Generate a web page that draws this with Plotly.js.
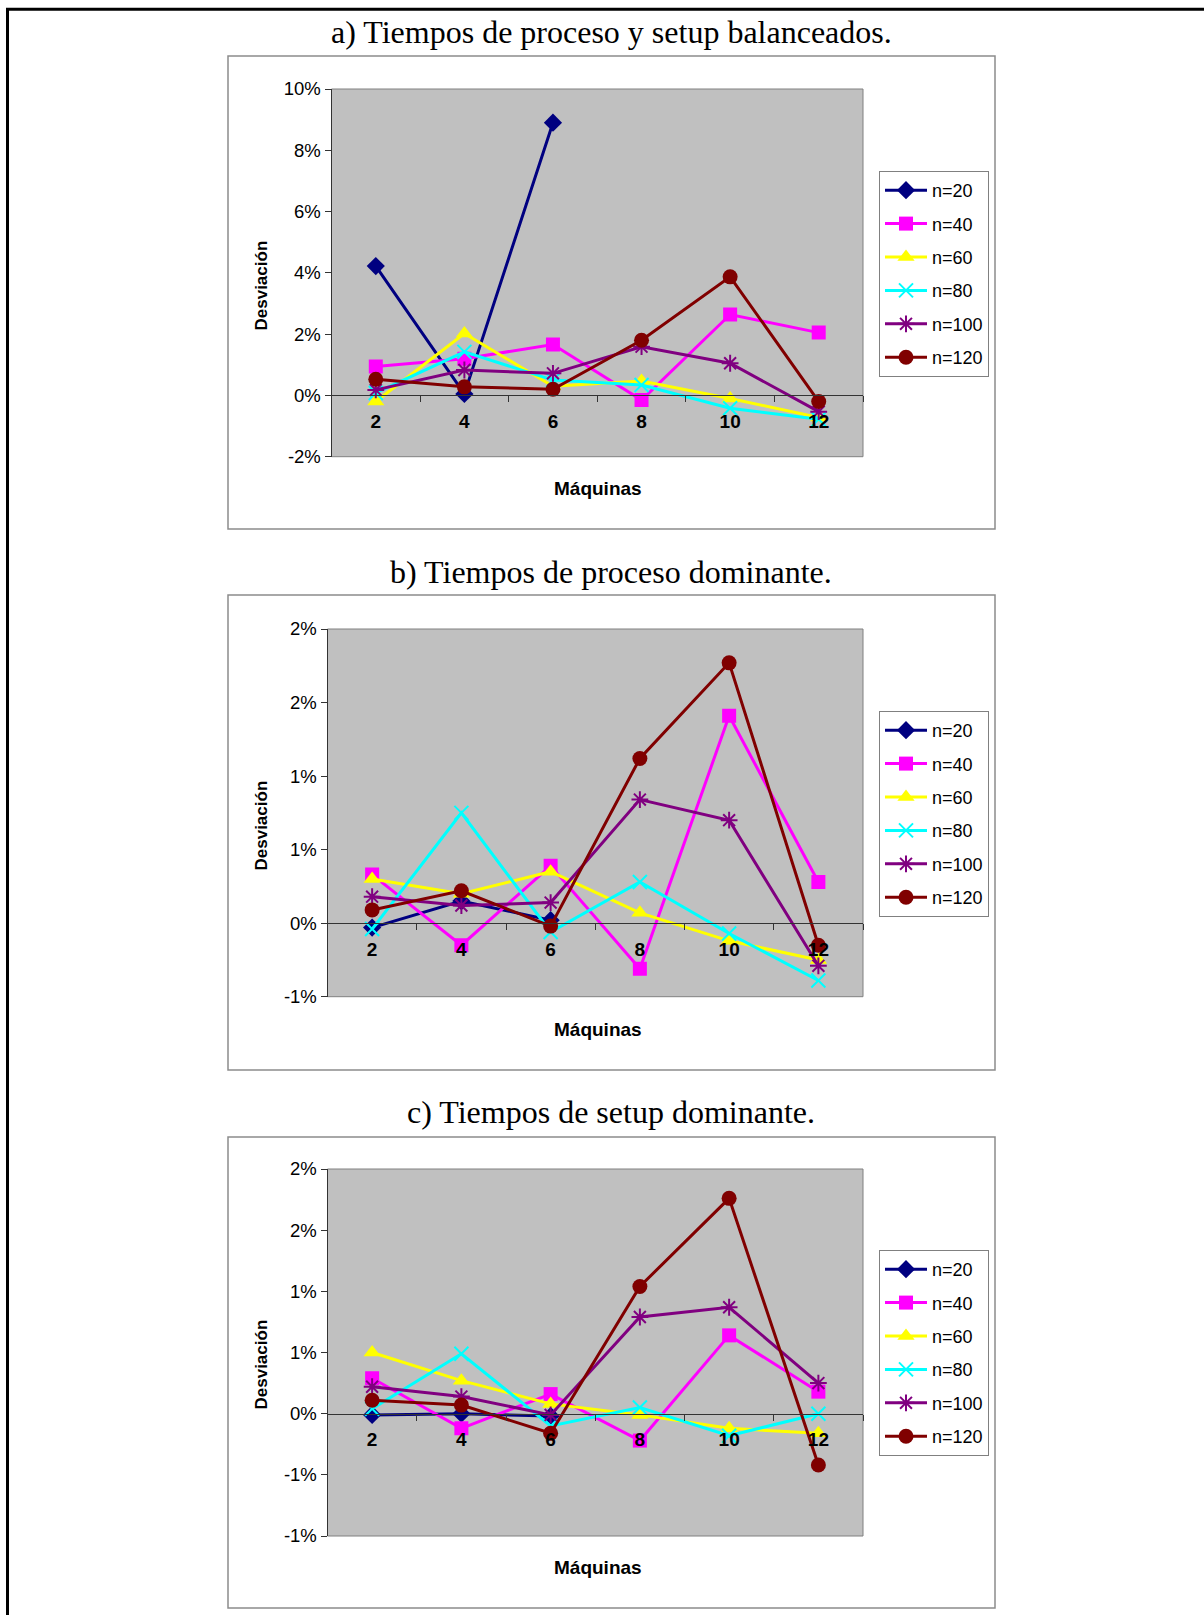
<!DOCTYPE html>
<html>
<head>
<meta charset="utf-8">
<script src="https://cdn.plot.ly/plotly-3.0.1.min.js"></script>
<style>
html,body{margin:0;padding:0;background:#fff;}
#chart{width:1204px;height:1615px;}
</style>
</head>
<body>
<div id="chart"></div>
<script>
// ---------- DATA ----------
const machines = ['2', '4', '6', '8', '10', '12'];
const seriesNames = ['n=20', 'n=40', 'n=60', 'n=80', 'n=100', 'n=120'];

const panelTitles = [
  'a) Tiempos de proceso y setup balanceados.',
  'b) Tiempos de proceso dominante.',
  'c) Tiempos de setup dominante.'
];
const xTitle = 'Máquinas';
const yTitle = 'Desviación';

// Panel a (deviation, %)
const a_n20  = [4.22, 0.05, 8.90, null, null, null];
const a_n40  = [0.94, 1.20, 1.66, -0.15, 2.64, 2.05];
const a_n60  = [-0.20, 2.02, 0.30, 0.47, -0.10, -0.72];
const a_n80  = [0.08, 1.42, 0.50, 0.34, -0.42, -0.78];
const a_n100 = [0.18, 0.83, 0.72, 1.59, 1.05, -0.53];
const a_n120 = [0.53, 0.28, 0.20, 1.80, 3.87, -0.20];

// Panel b (deviation, %)
const b_n20  = [-0.03, 0.15, 0.02, null, null, null];
const b_n40  = [0.33, -0.15, 0.39, -0.31, 1.41, 0.28];
const b_n60  = [0.30, 0.20, 0.35, 0.07, -0.12, -0.25];
const b_n80  = [-0.04, 0.75, -0.06, 0.28, -0.07, -0.39];
const b_n100 = [0.18, 0.12, 0.14, 0.84, 0.70, -0.29];
const b_n120 = [0.09, 0.22, -0.02, 1.12, 1.77, -0.15];

// Panel c (deviation, %)
const c_n20  = [-0.01, 0.00, -0.02, null, null, null];
const c_n40  = [0.29, -0.12, 0.16, -0.22, 0.64, 0.18];
const c_n60  = [0.50, 0.27, 0.08, -0.01, -0.12, -0.16];
const c_n80  = [0.04, 0.49, -0.10, 0.05, -0.18, 0.00];
const c_n100 = [0.22, 0.14, -0.01, 0.79, 0.87, 0.25];
const c_n120 = [0.11, 0.07, -0.16, 1.04, 1.76, -0.42];

// Y tick values / labels per panel
const a_tickVals = [-2, 0, 2, 4, 6, 8, 10];
const a_tickText = ['-2%', '0%', '2%', '4%', '6%', '8%', '10%'];
const b_tickVals = [-0.5, 0, 0.5, 1.0, 1.5, 2.0];
const b_tickText = ['-1%', '0%', '1%', '1%', '2%', '2%'];
const c_tickVals = [-1.0, -0.5, 0, 0.5, 1.0, 1.5, 2.0];
const c_tickText = ['-1%', '-1%', '0%', '1%', '1%', '2%', '2%'];

// ---------- STYLE / LAYOUT ----------
const W = 1204, H = 1615;
const px = p => p / W;
const py = p => 1 - p / H;

const styles = [
  {color: '#000080', symbol: 'diamond', size: 14},
  {color: '#FF00FF', symbol: 'square', size: 14},
  {color: '#FFFF00', symbol: 'triangle-up', size: 15},
  {color: '#00FFFF', symbol: 'x-thin-open', size: 14, open: true},
  {color: '#800080', symbol: 'asterisk-open', size: 14, open: true},
  {color: '#800000', symbol: 'circle', size: 15}
];

const panels = [
  {series: [a_n20, a_n40, a_n60, a_n80, a_n100, a_n120], range: [-2, 10], tv: a_tickVals, tt: a_tickText,
   plot: {l: 331.5, r: 863, t: 89, b: 456.7}, box: {l: 228, r: 995, t: 56, b: 529},
   legend: {x: 879, y: 171}, titleY: 32, xTitleY: 488, yTitleY: 286},
  {series: [b_n20, b_n40, b_n60, b_n80, b_n100, b_n120], range: [-0.5, 2.0], tv: b_tickVals, tt: b_tickText,
   plot: {l: 327.5, r: 863, t: 629, b: 996.7}, box: {l: 228, r: 995, t: 595, b: 1070},
   legend: {x: 879, y: 711}, titleY: 572, xTitleY: 1029, yTitleY: 826},
  {series: [c_n20, c_n40, c_n60, c_n80, c_n100, c_n120], range: [-1.0, 2.0], tv: c_tickVals, tt: c_tickText,
   plot: {l: 327.5, r: 863, t: 1169, b: 1536}, box: {l: 228, r: 995, t: 1137, b: 1608},
   legend: {x: 879, y: 1250}, titleY: 1112, xTitleY: 1567, yTitleY: 1365}
];

const sans = 'Liberation Sans, Arial, sans-serif';
const serif = 'Liberation Serif, Times New Roman, serif';

const traces = [];
const layout = {
  width: W, height: H,
  margin: {l: 0, r: 0, t: 0, b: 0},
  paper_bgcolor: '#FFFFFF',
  plot_bgcolor: '#C0C0C0',
  showlegend: true,
  shapes: [],
  annotations: []
};

// outer page frame (left and top black rules)
layout.shapes.push({type: 'line', xref: 'paper', yref: 'paper', x0: px(7.5), x1: px(7.5), y0: py(9), y1: 0, line: {color: '#000', width: 3}});
layout.shapes.push({type: 'line', xref: 'paper', yref: 'paper', x0: px(6), x1: 1, y0: py(9.3), y1: py(9.3), line: {color: '#000', width: 3}});

panels.forEach((p, i) => {
  const k = i === 0 ? '' : String(i + 1);
  const xa = 'x' + k, ya = 'y' + k;
  const lg = 'legend' + k;
  const yd = [py(p.plot.b), py(p.plot.t)];
  const zeroPos = yd[0] + (0 - p.range[0]) / (p.range[1] - p.range[0]) * (yd[1] - yd[0]);

  p.series.forEach((vals, j) => {
    const s = styles[j];
    traces.push({
      type: 'scatter', mode: 'lines+markers',
      x: machines, y: vals, name: seriesNames[j],
      xaxis: xa, yaxis: ya, legend: lg, legendgroup: 'g' + i + '_' + j,
      connectgaps: false,
      line: {color: s.color, width: 3},
      marker: {symbol: s.symbol, size: s.size, color: s.color,
               line: {color: s.color, width: s.open ? 2 : 0}},
      hoverinfo: 'x+y+name'
    });
  });

  layout['xaxis' + k] = {
    type: 'category', domain: [px(p.plot.l), px(p.plot.r)],
    anchor: 'free', position: zeroPos,
    categoryorder: 'array', categoryarray: machines,
    range: [-0.5, machines.length - 0.5],
    tickson: 'boundaries', ticks: 'outside', ticklen: 6, tickcolor: '#333', tickwidth: 1,
    showline: true, linecolor: '#333', linewidth: 1,
    showgrid: false, zeroline: false,
    ticklabelstandoff: 9,
    tickfont: {family: sans, size: 19, color: '#000', weight: 'bold'},
    fixedrange: true
  };
  layout['yaxis' + k] = {
    domain: yd, anchor: xa, range: p.range,
    tickmode: 'array', tickvals: p.tv, ticktext: p.tt,
    ticks: 'outside', ticklen: 6, tickcolor: '#333', tickwidth: 1,
    showline: true, linecolor: '#333', linewidth: 1,
    showgrid: false, zeroline: false,
    tickfont: {family: sans, size: 18.5, color: '#000'},
    fixedrange: true
  };

  layout[lg] = {
    x: px(p.legend.x), y: py(p.legend.y), xanchor: 'left', yanchor: 'top',
    xref: 'paper', yref: 'paper',
    bgcolor: '#FFFFFF', bordercolor: '#808080', borderwidth: 1,
    font: {family: sans, size: 18, color: '#000'},
    traceorder: 'grouped', tracegroupgap: 7, itemwidth: 42,
    itemclick: false, itemdoubleclick: false
  };

  // chart frame
  layout.shapes.push({type: 'rect', xref: 'paper', yref: 'paper',
    x0: px(p.box.l), x1: px(p.box.r), y0: py(p.box.b), y1: py(p.box.t),
    line: {color: '#8C8C8C', width: 1.5}, layer: 'below'});
  // plot-area border
  layout.shapes.push({type: 'rect', xref: xa + ' domain', yref: ya + ' domain',
    x0: 0, x1: 1, y0: 0, y1: 1, line: {color: '#808080', width: 1}, layer: 'below'});

  // panel title
  layout.annotations.push({text: panelTitles[i], xref: 'paper', yref: 'paper',
    x: px(611), y: py(p.titleY), xanchor: 'center', yanchor: 'middle', showarrow: false,
    font: {family: serif, size: 32, color: '#000'}});
  // x title
  layout.annotations.push({text: xTitle, xref: 'paper', yref: 'paper',
    x: px(598), y: py(p.xTitleY), xanchor: 'center', yanchor: 'middle', showarrow: false,
    font: {family: sans, size: 19, color: '#000', weight: 'bold'}});
  // y title
  layout.annotations.push({text: yTitle, xref: 'paper', yref: 'paper',
    x: px(260.5), y: py(p.yTitleY), xanchor: 'center', yanchor: 'middle', showarrow: false,
    textangle: -90,
    font: {family: sans, size: 17, color: '#000', weight: 'bold'}});
});

Plotly.newPlot('chart', traces, layout, {displayModeBar: false, staticPlot: false, responsive: false});
</script>
</body>
</html>
